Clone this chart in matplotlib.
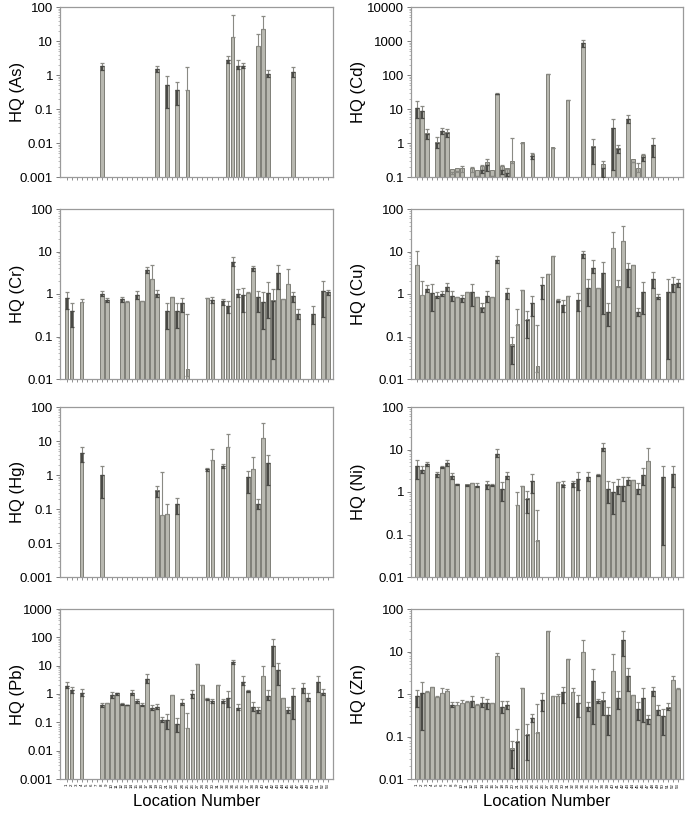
import numpy as np
import matplotlib
matplotlib.use('Agg')
import matplotlib.pyplot as plt

plt.rcParams['font.family'] = ['Liberation Sans', 'DejaVu Sans']

locations = list(range(1, 54))

# ---- As ----
as_loc = [8, 19, 21, 23, 25, 33, 34, 35, 36, 39, 40, 41, 46]
as_val = [1.8, 1.5, 0.5, 0.37, 0.37, 2.7, 13, 1.9, 1.9, 7, 22, 1.1, 1.25]
as_hi = [2.3, 1.85, 0.92, 0.62, 1.7, 3.7, 57, 2.8, 2.3, 16, 55, 1.45, 1.75]
as_lo = [1.45, 1.25, 0.11, 0.13, None, 2.2, None, 1.5, 1.6, None, None, 0.9, 0.85]

# ---- Cd ----
cd_loc = [1, 2, 3, 5, 6, 7, 8, 9, 10, 12, 13, 14, 15, 16, 17, 18, 19, 20, 22, 24,
          27, 28, 31, 34, 36, 38, 40, 41, 43, 44, 45, 46, 48]
cd_val = [11, 8.5, 1.9, 1.0, 2.2, 2.0, 0.12, 0.14, 0.14, 0.14, 0.11, 0.16, 0.23, 0.11,
          28, 0.16, 0.13, 0.25, 1.0, 0.42, 110, 0.7, 18, 850, 0.75, 0.19, 2.8, 0.65,
          5.2, 0.28, 0.14, 0.38, 0.85]
cd_hi = [17, 12, 2.6, 1.5, 2.7, 2.6, 0.14, 0.15, 0.21, 0.2, None, 0.22, 0.34, None,
         30, 0.23, 0.17, 1.45, None, 0.52, None, None, None, 1100, 1.35, 0.3, 5.2, 0.9,
         6.7, None, 0.25, 0.48, 1.4]
cd_lo = [5.5, 5.5, 1.3, 0.7, 1.9, 1.5, None, None, None, None, None, 0.13, 0.15, None,
         27, 0.12, 0.11, None, None, 0.33, None, None, None, 650, 0.24, 0.1, 0.16, 0.5,
         3.8, None, None, 0.3, 0.38]

# ---- Cr ----
cr_loc = [1, 2, 4, 8, 9, 12, 13, 15, 16, 17, 18, 19, 21, 22, 23, 24, 25, 29, 30, 32,
          33, 34, 35, 36, 37, 38, 39, 40, 41, 42, 43, 44, 45, 46, 47, 50, 52, 53]
cr_val = [0.8, 0.4, 0.65, 1.0, 0.72, 0.75, 0.65, 0.95, 0.68, 3.7, 2.3, 1.0, 0.4, 0.85,
          0.4, 0.6, 0.012, 0.8, 0.72, 0.68, 0.52, 5.8, 1.0, 0.95, 1.05, 4.0, 0.85, 0.65,
          1.05, 0.7, 3.1, 0.75, 1.7, 0.9, 0.33, 0.34, 1.15, 1.1]
cr_hi = [1.1, 0.62, 0.75, 1.2, 0.8, 0.85, 0.7, 1.2, 0.7, 4.3, 4.8, 1.25, 0.62, None,
         0.62, 0.82, 0.33, None, 0.85, 0.78, 0.67, 7.5, 1.3, 1.35, 1.1, 4.5, 1.2, 1.1,
         1.9, 1.3, 4.8, None, 3.8, 1.1, 0.45, 0.52, 2.0, 1.25]
cr_lo = [0.45, 0.17, None, 0.9, 0.65, 0.65, None, 0.75, None, 3.2, None, 0.85, 0.15, None,
         0.16, 0.38, None, None, 0.6, 0.55, 0.35, 4.5, 0.85, 0.38, None, 3.5, 0.38, 0.15,
         0.27, 0.03, 1.3, None, None, 0.65, 0.26, 0.2, 0.28, 0.95]

# ---- Cu ----
cu_loc = list(range(1, 18)) + list(range(19, 32)) + list(range(33, 47)) + [48, 49, 51, 52, 53]
cu_val = [4.7, 0.95, 1.3, 1.05, 0.9, 1.0, 1.45, 0.9, 0.85, 0.8, 1.1, 1.1, 0.85, 0.48, 0.9,
          0.85, 6.3,
          1.05, 0.06, 0.19, 1.25, 0.25, 0.6, 0.015, 1.6, 2.9, 8, 0.7, 0.55, 0.9,
          0.72, 8.5, 1.4, 4.0, 1.4, 3.2, 0.38, 12, 1.5, 18, 3.8, 4.9, 0.38, 1.1,
          2.3, 0.85, 1.1, 1.75, 1.8]
cu_hi = [10.5, 2.0, 1.6, 1.7, 1.1, 1.15, 1.8, 1.2, None, 0.95, None, 1.75, None, 0.6, 1.2,
         None, 8,
         1.4, 0.095, 0.45, None, 0.4, 0.88, 0.19, 2.5, None, None, 0.75, 0.72, None,
         1.05, 10.5, 2.3, 6.2, None, 5.6, 0.6, 28, 2.1, 40, 5.5, None, 0.48, 1.9,
         3.3, 1.0, 2.2, 2.5, 2.2]
cu_lo = [None, None, 1.1, 0.4, 0.8, 0.9, 1.2, 0.7, None, 0.65, None, 0.52, None, 0.38, 0.65,
         None, 5.5,
         0.75, 0.022, None, None, 0.09, 0.3, None, 0.75, None, None, 0.65, 0.38, None,
         0.4, 7, 0.52, 3.2, None, 0.34, 0.18, None, 1.5, None, 1.5, None, 0.3, 0.33,
         1.35, 0.75, 0.03, 1.1, 1.5]

# ---- Hg ----
hg_loc = [4, 8, 19, 20, 21, 23, 29, 30, 32, 33, 37, 38, 39, 40, 41]
hg_val = [4.5, 1.0, 0.35, 0.065, 0.07, 0.14, 1.5, 2.8, 1.8, 6.5, 0.85, 1.5, 0.14, 12, 2.2]
hg_hi = [6.5, 1.85, 0.48, 1.2, 0.14, 0.21, 1.65, 6.0, 2.1, 16, 1.35, 3.4, 0.2, 35, 3.9]
hg_lo = [2.4, 0.21, 0.22, None, None, 0.07, 1.35, None, 1.6, None, 0.3, None, 0.1, None, 0.52]

# ---- Ni ----
ni_loc = [1, 2, 3, 5, 6, 7, 8, 9, 11, 12, 13, 15, 16, 17, 18, 19, 21, 22, 23, 24, 25,
          29, 30, 32, 33, 35, 37, 38, 39, 40, 41, 42, 43, 44, 45, 46, 47, 50, 52]
ni_val = [4.0, 3.3, 4.5, 2.7, 3.8, 4.8, 2.4, 1.55, 1.5, 1.6, 1.4, 1.5, 1.45, 8, 1.15, 2.4,
          0.5, 1.35, 0.7, 1.8, 0.07, 1.7, 1.5, 1.6, 2.0, 2.2, 2.5, 11, 1.2, 1.0, 1.4, 1.4,
          1.9, 1.95, 1.2, 2.5, 5.5, 2.2, 2.6]
ni_hi = [5.8, 4.0, 5.0, 3.0, 4.0, 5.8, 2.8, None, None, None, 1.6, 1.8, 1.55, 10.5, 1.7, 3.0,
         1.0, None, 1.05, 2.7, 0.38, 1.75, 1.8, 1.85, 3.0, 2.9, 2.7, 14, 1.8, 1.7, 2.0, 2.2,
         2.2, None, 1.6, 3.6, 11, 4.2, 4.0]
ni_lo = [2.0, 2.8, 4.2, 2.3, 3.6, 4.2, 2.0, 1.45, 1.4, None, 1.3, 1.2, 1.35, 6.5, 0.6, 2.0,
         None, None, 0.32, 0.95, None, None, 1.3, 1.3, 1.1, 1.8, 2.4, 9, 0.55, 0.3, 0.9, 0.6,
         1.5, None, 0.9, 1.5, None, 0.056, 1.3]

# ---- Pb ----
pb_loc = [1, 2, 4] + list(range(8, 47)) + [48, 49, 51, 52]
pb_val = [1.9, 1.4, 1.1,
          0.4, 0.5, 0.9, 1.05, 0.45, 0.42, 1.05, 0.55, 0.42, 3.3, 0.32, 0.35, 0.12, 0.12,
          0.95, 0.09, 0.5, 0.065, 1.0, 11, 2.1, 0.65, 0.55, 2.1, 0.55, 0.75, 13, 0.32, 2.6,
          1.25, 0.35, 0.27, 4.2, 0.85, 50, 7, 0.7, 0.27, 0.85,
          1.6, 0.75, 2.7, 1.1]
pb_hi = [2.6, 1.8, 1.45,
         0.5, None, 1.2, 1.1, 0.48, None, 1.35, 0.65, 0.47, 5, 0.4, 0.45, 0.16, 0.19,
         None, 0.14, 0.65, 0.22, 1.35, None, None, 0.7, 0.65, None, 0.65, 1.25, 16, 0.45, 4.2,
         1.35, 0.52, 0.35, 10, 1.4, 90, 12, None, 0.35, 1.6,
         2.4, 1.05, 4.3, 1.45]
pb_lo = [1.6, 1.1, 0.85,
         0.35, None, 0.75, 0.95, 0.4, 0.4, 0.9, 0.5, 0.38, 2.5, 0.28, 0.3, 0.1, 0.06,
         None, 0.045, 0.42, None, 0.75, None, None, 0.6, 0.5, None, 0.5, 0.35, 11, 0.28, 2.0,
         1.15, 0.25, 0.22, None, 0.6, 10, 2.0, None, 0.22, 0.13,
         1.1, 0.55, 1.2, 0.95]

# ---- Zn ----
zn_loc = list(range(1, 54))
zn_val = [0.9, 1.05, 1.1, 1.45, 0.85, 1.05, 1.15, 0.55, 0.55, 0.62, 0.65, 0.68, 0.55, 0.62,
          0.6, 0.6, 8, 0.5, 0.55, 0.048, 0.075, 1.35, 0.11, 0.27, 0.12, 0.72, 30, 0.9, 0.9,
          1.1, 6.5, 1.1, 0.6, 9.5, 0.5, 2.0, 0.68, 0.7, 0.32, 3.5, 0.8, 19, 2.7, 0.95, 0.45,
          0.8, 0.26, 1.2, 0.42, 0.3, 0.48, 2.1, 1.3]
zn_hi = [1.25, 1.9, 1.15, 1.5, 0.9, 1.35, 1.3, 0.65, 0.65, 0.72, 0.7, 0.9, 0.58, 0.85,
         0.78, 0.62, 9, 0.68, 0.68, 0.08, 0.15, None, 0.2, 0.34, 0.58, 1.05, None, None, 1.0,
         1.5, None, 1.35, 0.95, 19, 0.65, 3.9, 0.75, 1.1, 0.5, 8.5, 1.15, 30, 4.2, None, 0.65,
         1.4, 0.32, 1.5, 0.55, 0.45, 0.6, 2.6, 1.35]
zn_lo = [0.5, 0.14, None, None, None, None, None, 0.5, None, None, None, 0.5, None, 0.5,
         0.45, None, None, 0.35, 0.45, 0.018, 0.01, None, 0.028, 0.22, None, 0.4, None, None, None,
         0.6, None, None, 0.28, None, 0.4, 0.2, 0.6, 0.32, 0.11, None, 0.45, 8, 1.2, None, 0.25,
         0.22, 0.2, 0.9, 0.32, 0.11, 0.42, None, None]

BAR_COLOR = '#b8b8b0'
EDGE_COLOR = '#707068'
FRAME_COLOR = '#9a9a9a'


def draw(ax, label, loc, val, hi, lo, ylim, xlim, label_x, bottom_row):
    loc = np.array(loc, dtype=float)
    val = np.array(val, dtype=float)
    hi = np.array([v if h is None else h for v, h in zip(val, hi)], dtype=float)
    lo = np.array([v if l is None else l for v, l in zip(val, lo)], dtype=float)

    ax.set_yscale('log')
    ax.bar(loc, val, width=0.72, bottom=ylim[0] * 0.5, color=BAR_COLOR,
           edgecolor=EDGE_COLOR, linewidth=0.6, zorder=2)
    # upper whisker (light) and lower whisker (dark, inside bar)
    ax.errorbar(loc, val, yerr=[np.zeros_like(val), hi - val], fmt='none',
                ecolor='#8a8a84', elinewidth=0.8, capsize=1.6, capthick=0.9, zorder=3)
    has_lo = lo < val
    ax.errorbar(loc[has_lo], val[has_lo], yerr=[val[has_lo] - lo[has_lo], np.zeros(has_lo.sum())],
                fmt='none', ecolor='#4a4a46', elinewidth=1.6, capsize=1.6, capthick=0.9, zorder=3)

    ax.set_ylim(*ylim)
    ax.set_xlim(*xlim)
    ax.set_ylabel(label, fontsize=12)
    ax.yaxis.set_label_coords(label_x, 0.5)

    ax.set_xticks(locations)
    if bottom_row:
        ax.set_xticklabels([str(i) for i in locations], rotation=90, fontsize=3.2)
        ax.set_xlabel('Location Number', fontsize=12, labelpad=4)
    else:
        ax.set_xticklabels([])
    ax.tick_params(axis='x', length=2, width=0.5, color='#666666', pad=1)
    ax.tick_params(axis='y', which='major', length=3, width=0.6, color='#666666',
                   labelsize=9.5, pad=2)
    ax.tick_params(axis='y', which='minor', length=1.5, width=0.4, color='#888888')

    exps = range(int(round(np.log10(ylim[0]))), int(round(np.log10(ylim[1]))) + 1)
    ticks = [10.0 ** e for e in exps]
    ax.set_yticks(ticks)
    ax.set_yticklabels(['{:g}'.format(t) if t < 1 else str(int(t)) for t in ticks])

    for sp in ax.spines.values():
        sp.set_color(FRAME_COLOR)
        sp.set_linewidth(0.9)


W, H = 685, 814
fig = plt.figure(figsize=(W / 100, H / 100), dpi=100)

left_x = (60, 333)
right_x = (411, 683)
rows = [(7, 177), (209, 379), (407, 577), (609, 779)]


def add_axes(xr, yr):
    return fig.add_axes([xr[0] / W, 1 - yr[1] / H, (xr[1] - xr[0]) / W, (yr[1] - yr[0]) / H])


xl_left = (-0.3, 53.95)
xl_right = (-0.15, 53.95)
lx_left = -0.13
lx_right = -0.165

draw(add_axes(left_x, rows[0]), 'HQ (As)', as_loc, as_val, as_hi, as_lo, (0.001, 100), xl_left, lx_left, False)
draw(add_axes(right_x, rows[0]), 'HQ (Cd)', cd_loc, cd_val, cd_hi, cd_lo, (0.1, 10000), xl_right, lx_right, False)
draw(add_axes(left_x, rows[1]), 'HQ (Cr)', cr_loc, cr_val, cr_hi, cr_lo, (0.01, 100), xl_left, lx_left, False)
draw(add_axes(right_x, rows[1]), 'HQ (Cu)', cu_loc, cu_val, cu_hi, cu_lo, (0.01, 100), xl_right, lx_right, False)
draw(add_axes(left_x, rows[2]), 'HQ (Hg)', hg_loc, hg_val, hg_hi, hg_lo, (0.001, 100), xl_left, lx_left, False)
draw(add_axes(right_x, rows[2]), 'HQ (Ni)', ni_loc, ni_val, ni_hi, ni_lo, (0.01, 100), xl_right, lx_right, False)
draw(add_axes(left_x, rows[3]), 'HQ (Pb)', pb_loc, pb_val, pb_hi, pb_lo, (0.001, 1000), xl_left, lx_left, True)
draw(add_axes(right_x, rows[3]), 'HQ (Zn)', zn_loc, zn_val, zn_hi, zn_lo, (0.01, 100), xl_right, lx_right, True)

fig.savefig('out.png', dpi=100)
